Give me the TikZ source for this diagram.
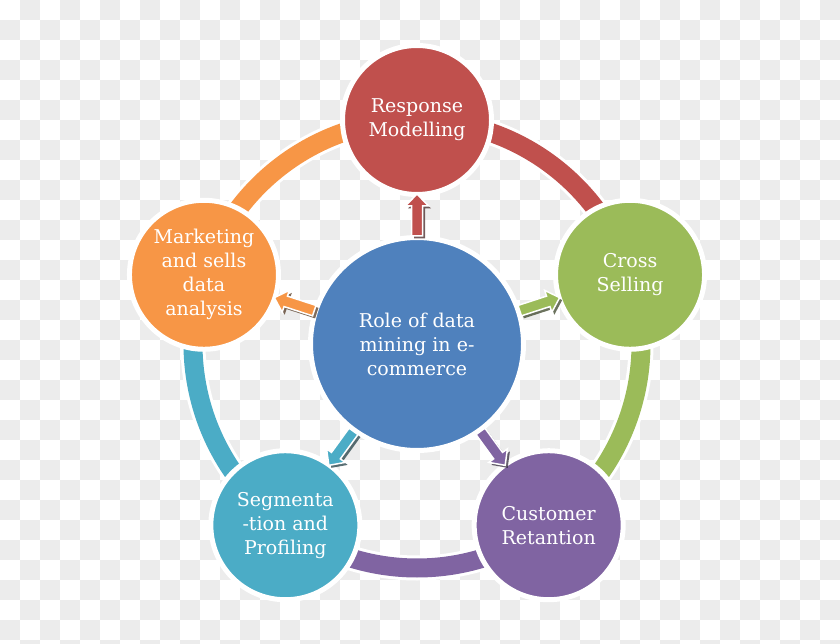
\documentclass[tikz,border=0pt]{standalone}
\usepackage{fontspec}
\setmainfont{DejaVu Serif}
\definecolor{cred}{HTML}{C0504D}
\definecolor{cgreen}{HTML}{9BBB59}
\definecolor{cpurple}{HTML}{8064A2}
\definecolor{cteal}{HTML}{4BACC6}
\definecolor{corange}{HTML}{F79646}
\definecolor{cblue}{HTML}{4F81BD}
\definecolor{checkgray}{HTML}{ECECEC}
\tikzset{
  lbl/.style={text=white, align=center, font=\fontsize{19}{24}\selectfont},
  bigdisc/.style={circle, draw=white, line width=5pt, inner sep=0pt, minimum size=213pt, lbl},
  disc/.style={circle, draw=white, line width=5pt, inner sep=0pt, minimum size=149pt, lbl},
  ringwhite/.style={draw=white, line width=25pt},
  ringcol/.style={line width=19pt},
}
\newcommand\blockarr[2]{%
  \begin{scope}[shift={(c.center)}, shift={(2.5,-2.5)}, rotate=#1]
    \fill[#2!30!black, opacity=.7] (108,-5.5) -- (138,-5.5) -- (138,-11.5) -- (150,0) -- (138,11.5) -- (138,5.5) -- (108,5.5) -- cycle;
  \end{scope}
  \begin{scope}[shift={(c.center)}, rotate=#1]
    \filldraw[fill=#2, draw=white, line width=1.5pt, line join=miter] (108,-5.5) -- (138,-5.5) -- (138,-11.5) -- (150,0) -- (138,11.5) -- (138,5.5) -- (108,5.5) -- cycle;
  \end{scope}}
\begin{document}
\begin{tikzpicture}[x=1pt, y=1pt]
\useasboundingbox (0,0) rectangle (840,643);
% transparency checkerboard
\fill[white] (0,0) rectangle (840,643);
\foreach \i in {0,...,41}{
  \foreach \j in {0,...,32}{
    \pgfmathtruncatemacro\chkpar{mod(\i+\j,2)}
    \ifnum\chkpar=1
      \fill[checkgray] (20*\i, 643-20*\j) rectangle (20*\i+20, 623-20*\j);
    \fi
  }
}
\path (417,299) coordinate (ringc);
\path (ringc) ++(90:224)  coordinate (presp);
\path (ringc) ++(18:224)  coordinate (pcross);
\path (ringc) ++(-54:224) coordinate (pcust);
\path (ringc) ++(-126:224) coordinate (pseg);
\path (ringc) ++(162:224) coordinate (pmkt);
% ring arcs
\foreach \a/\b in {162/90, 90/18, 18/-54, -54/-126, 234/162}{
  \draw[ringwhite] (ringc) ++(\a:224) arc[start angle=\a, end angle=\b, radius=224pt];
}
\draw[ringcol, corange] (pmkt) arc[start angle=162, end angle=90, radius=224pt];
\draw[ringcol, cred] (presp) arc[start angle=90, end angle=18, radius=224pt];
\draw[ringcol, cgreen] (pcross) arc[start angle=18, end angle=-54, radius=224pt];
\draw[ringcol, cpurple] (pcust) arc[start angle=-54, end angle=-126, radius=224pt];
\draw[ringcol, cteal] (pseg) arc[start angle=234, end angle=162, radius=224pt];
% circles
\node[disc, fill=cred] (resp) at (presp) {Response\\Modelling};
\node[disc, fill=cgreen] (cross) at (pcross) {Cross\\Selling};
\node[disc, fill=cpurple] (cust) at (pcust) {Customer\\Retantion};
\node[disc, fill=cteal] (seg) at (pseg) {Segmenta\\-tion and\\Profiling};
\node[disc, fill=corange] (mkt) at (pmkt) {Marketing\\and sells\\data\\analysis};
\node[bigdisc, fill=cblue] (c) at (ringc) {Role of data\\mining in e-\\commerce};
% arrows
\blockarr{90}{cred}
\blockarr{18}{cgreen}
\blockarr{-54}{cpurple}
\blockarr{-126}{cteal}
\blockarr{162}{corange}
\end{tikzpicture}
\end{document}
